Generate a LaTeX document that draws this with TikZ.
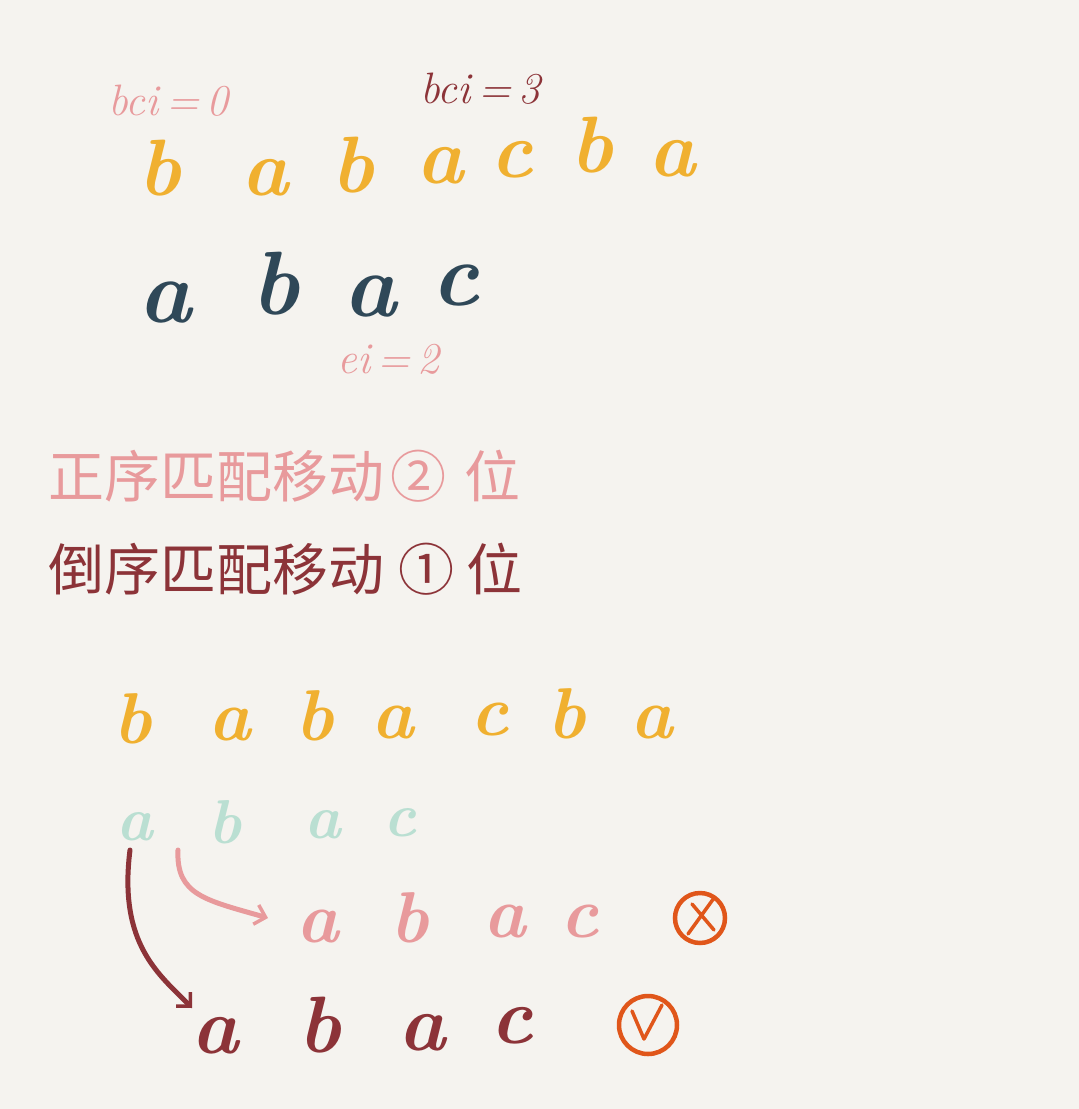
\documentclass[tikz,border=0pt]{standalone}
\usepackage{fontspec}
\newfontfamily\cjk{Noto Sans CJK SC}
\usetikzlibrary{arrows.meta}
\definecolor{bgc}{HTML}{F5F3EF}
\definecolor{ylw}{HTML}{F0B030}
\definecolor{dblue}{HTML}{2F4858}
\definecolor{pnk}{HTML}{E89A9C}
\definecolor{dred}{HTML}{8C3338}
\definecolor{teal}{HTML}{BADFD2}
\definecolor{org}{HTML}{E0561A}
\tikzset{
  lt/.style={inner sep=0pt, anchor=base, font=\fontsize{#1}{#1}\selectfont\bfseries\itshape},
  lbl/.style={inner sep=0pt, anchor=base west, font=\fontsize{44}{44}\selectfont\itshape},
  cn/.style={inner sep=0pt, anchor=base west, font=\cjk\fontsize{56}{56}\selectfont},
  mark/.style={circle, draw=org, line width=4.5pt, inner sep=0pt, minimum size=#1},
  arr/.style={line width=5pt, line cap=round, -{Straight Barb[length=10pt,width=20pt,line width=3.5pt]}}
}
\begin{document}
\begin{tikzpicture}[x=1pt,y=-1pt]
\fill[bgc] (0,0) rectangle (1079,1109);
\useasboundingbox (0,0) rectangle (1079,1109);
% labels
\node[lbl, pnk] (bci0) at (108,115) {bci\,=\,0};
\node[lbl, dred] (bci3) at (420,103) {bci\,=\,3};
\node[lbl, pnk] (ei2) at (337,373) {ei\,=\,2};
% row 1
\begin{scope}[every node/.style={lt=80, ylw}]
\node (r1a) at (160,195) {b};
\node (r1b) at (265,195) {a};
\node (r1c) at (353,192) {b};
\node (r1d) at (440,183) {a};
\node (r1e) at (512,177) {c};
\node (r1f) at (592,172) {b};
\node (r1g) at (672,176) {a};
\end{scope}
% row 2
\begin{scope}[every node/.style={lt=90, dblue}]
\node (r2a) at (165,322) {a};
\node (r2b) at (275,314) {b};
\node (r2c) at (370,316) {a};
\node (r2d) at (455,305) {c};
\end{scope}
% chinese
\node[cn, pnk] (z1) at (48,497) {正序匹配移动\hspace{6pt}②\hspace{18pt}位};
\node[cn, dred] (z2) at (48,590) {倒序匹配移动\hspace{14pt}①\hspace{12pt}位};
% row 3
\begin{scope}[every node/.style={lt=72, ylw}]
\node (r3a) at (133,743) {b};
\node (r3b) at (230,740) {a};
\node (r3c) at (315,740) {b};
\node (r3d) at (393,738) {a};
\node (r3e) at (490,735) {c};
\node (r3f) at (567,738) {b};
\node (r3g) at (652,738) {a};
\end{scope}
% row 4
\begin{scope}[every node/.style={lt=62, teal}]
\node (r4a) at (135,840) {a};
\node (r4b) at (225,843) {b};
\node (r4c) at (323,838) {a};
\node (r4d) at (400,836) {c};
\end{scope}
% row 5
\begin{scope}[every node/.style={lt=72, pnk}]
\node (r5a) at (318,942) {a};
\node (r5b) at (410,942) {b};
\node (r5c) at (505,937) {a};
\node (r5d) at (580,937) {c};
\end{scope}
\node[mark=50pt] (no) at (700,918) {};
\draw[org, line width=3.5pt, line cap=round] ([shift={(-12,16)}]no.center) -- ([shift={(14,-20)}]no.center)
  ([shift={(-8,-14)}]no.center) -- ([shift={(14,12)}]no.center);
% row 6
\begin{scope}[every node/.style={lt=80, dred}]
\node (r6a) at (215,1053) {a};
\node (r6b) at (320,1052) {b};
\node (r6c) at (422,1050) {a};
\node (r6d) at (512,1043) {c};
\end{scope}
\node[mark=58pt] (yes) at (648,1025) {};
\draw[org, line width=3.5pt, line cap=round, line join=round] ([shift={(-16,-14)}]yes.center) -- ([shift={(-4,14)}]yes.center) -- ([shift={(14,-20)}]yes.center);
% arrows
\coordinate (s5) at (178,850);
\coordinate (t5) at (268,918);
\coordinate (s6) at (130,850);
\coordinate (t6) at (192,1008);
\draw[arr, pnk] (s5) .. controls (176,895) and (205,900) .. (t5);
\draw[arr, dred] (s6) .. controls (118,945) and (160,975) .. (t6);
\end{tikzpicture}
\end{document}
